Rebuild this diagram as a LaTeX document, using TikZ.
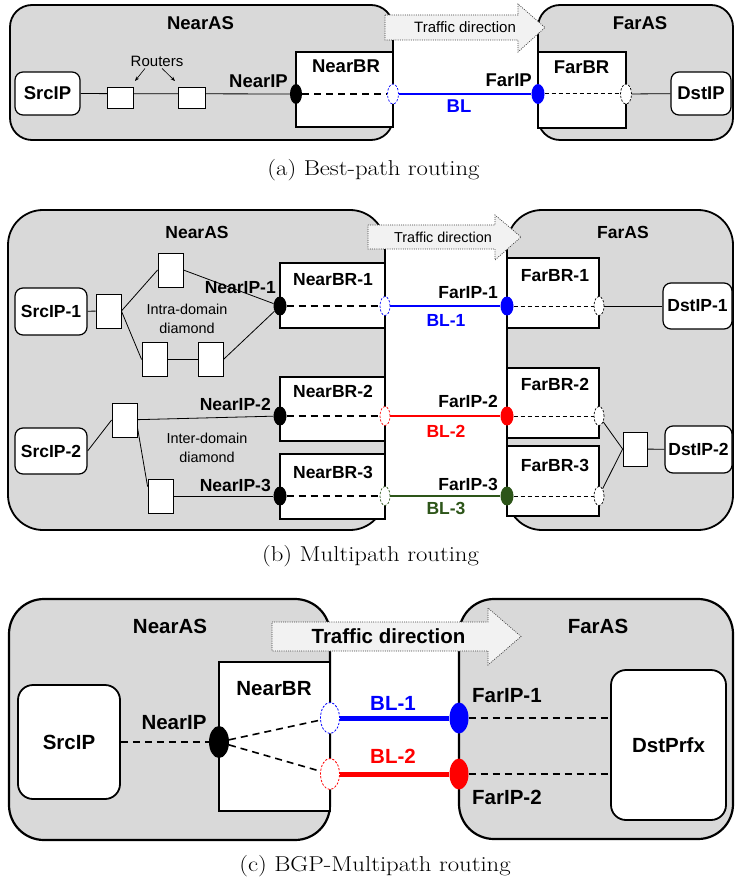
\documentclass[tikz,border=0pt]{standalone}
\usepackage{fontspec}
\usepackage{graphicx}
\setsansfont{Liberation Sans}
\usetikzlibrary{shapes.geometric,arrows.meta}
\pgfdeclarelayer{back}
\pgfdeclarelayer{mid}
\pgfsetlayers{back,mid,main}
\definecolor{asgray}{RGB}{217,217,217}
\definecolor{arrfill}{RGB}{242,242,242}
\definecolor{dkgreen}{RGB}{45,85,25}
\definecolor{ipblue}{RGB}{0,0,255}
\definecolor{ipred}{RGB}{255,0,0}
\newcommand\fA{\fontsize{18.5}{20}\selectfont\sffamily\bfseries}
\newcommand\fB{\fontsize{17.5}{19}\selectfont\sffamily\bfseries}
\newcommand\fC{\fontsize{20.5}{22}\selectfont\sffamily\bfseries}
\newcommand\nA{\fontsize{15}{17}\selectfont\sffamily}
\newcommand\nB{\fontsize{14.4}{18}\selectfont\sffamily}
\newcommand\capf{\fontsize{21.5}{24}\selectfont\rmfamily}
\newcommand\capt[1]{\scalebox{1.15}[1]{#1}}
\begin{document}
\begin{tikzpicture}[x=1pt,y=-1pt,
  asbox/.style={draw=black, line width=1.8pt, fill=asgray, inner sep=0pt},
  brbox/.style={draw=black, line width=1.8pt, fill=white, inner sep=0pt},
  host/.style={draw=black, line width=1.2pt, fill=white, rounded corners=8pt, inner sep=0pt},
  rtr/.style={draw=black, line width=0.8pt, fill=white, inner sep=0pt},
  txt/.style={inner sep=0pt},
  ipdot/.style={ellipse, inner sep=0pt, fill=#1, draw=none},
  iphole/.style={ellipse, inner sep=0pt, fill=white, draw=#1, line width=0.7pt, dash pattern=on 2.2pt off 1.6pt},
  tarrow/.style={draw=black!75, line width=0.7pt, dash pattern=on 1pt off 1.2pt, fill=arrfill},
  wire/.style={line width=0.8pt},
  thickdash/.style={line width=1.8pt, dash pattern=on 7pt off 5pt},
  thindash/.style={line width=1pt, dash pattern=on 4pt off 3pt},
  cdash/.style={line width=1.6pt, dash pattern=on 7pt off 5pt},
  ptr/.style={line width=0.6pt, -{Stealth[length=4.5pt,width=3.5pt]}}
]
\useasboundingbox (0,0) rectangle (735,882);

% ================= back layer =================
\begin{pgfonlayer}{back}
% (a)
\node[asbox, rounded corners=22pt, minimum width=383, minimum height=135] (nearASa) at (201.5,72.5) {};
\node[asbox, rounded corners=22pt, minimum width=195, minimum height=135] (farASa) at (635.5,72.5) {};
\draw[tarrow] (385,15) -- (518,15) -- (518,4) -- (545,27.5) -- (518,52) -- (518,40) -- (385,40) -- cycle;
\node[brbox, minimum width=97, minimum height=75] (nearBRa) at (344.5,89.5) {};
\node[brbox, minimum width=88, minimum height=76] (farBRa) at (582,90) {};
% (b)
\node[asbox, rounded corners=35pt, minimum width=377, minimum height=320] (nearASb) at (196.5,370) {};
\node[asbox, rounded corners=35pt, minimum width=226, minimum height=320] (farASb) at (620,370) {};
\draw[tarrow] (368,225) -- (495,225) -- (495,215) -- (521,237) -- (495,260) -- (495,249) -- (368,249) -- cycle;
\node[brbox, minimum width=105, minimum height=65] (nbr1B) at (332.5,295.5) {};
\node[brbox, minimum width=105, minimum height=64] (nbr2B) at (332.5,409) {};
\node[brbox, minimum width=105, minimum height=65] (nbr3B) at (332.5,486.5) {};
\node[brbox, minimum width=92, minimum height=70] (fbr1B) at (553,293) {};
\node[brbox, minimum width=92, minimum height=70] (fbr2B) at (553,403) {};
\node[brbox, minimum width=92, minimum height=70] (fbr3B) at (553,481) {};
% (c)
\node[asbox, line width=2.2pt, rounded corners=35pt, minimum width=321, minimum height=241] (nearASc) at (169.5,719.5) {};
\node[asbox, line width=2.2pt, rounded corners=35pt, minimum width=274, minimum height=240] (farASc) at (596,719) {};
\draw[tarrow] (272,622) -- (488,622) -- (488,608) -- (521,636.5) -- (488,665) -- (488,651) -- (272,651) -- cycle;
\node[brbox, line width=2pt, minimum width=111, minimum height=149] (nearBRc) at (274.5,736.5) {};
\end{pgfonlayer}

% ================= main nodes =================
% (a)
\node[txt, font=\fA] (lnearASa) at (200.5,23) {NearAS};
\node[txt, font=\fA] (lfarASa) at (640,23) {FarAS};
\node[txt, font=\fA] (lnearBRa) at (346,66.5) {NearBR};
\node[txt, font=\fA] (lfarBRa) at (581.5,67.5) {FarBR};
\node[txt, font=\nA] (tdA) at (465,27.5) {Traffic direction};
\node[host, minimum width=65, minimum height=43, font=\fA] (srcA) at (47.5,93.5) {SrcIP};
\node[host, minimum width=60, minimum height=43, font=\fA] (dstA) at (701,93.5) {DstIP};
\node[rtr, minimum width=26, minimum height=21] (ra1) at (120,97.5) {};
\node[rtr, minimum width=27, minimum height=21] (ra2) at (191.5,97.5) {};
\node[txt, font=\nA] (routA) at (157,61) {Routers};
\coordinate (pa1) at (135,81);
\coordinate (pa2) at (175,81);
\node[ipdot=black, minimum width=12, minimum height=20] (nipA) at (296,94) {};
\node[iphole=ipblue, minimum width=11, minimum height=20] (nhA) at (393,94) {};
\node[ipdot=ipblue, minimum width=13, minimum height=20] (fipA) at (538,94) {};
\node[iphole=black, minimum width=11, minimum height=20] (fhA) at (626,94) {};
\node[txt, font=\fA, anchor=east] (lnipA) at (288,81) {NearIP};
\node[txt, font=\fA, anchor=east] (lfipA) at (532,80.5) {FarIP};
\node[txt, font=\fA, text=ipblue] (lblA) at (459,106.5) {BL};
\node[txt, font=\capf] (capA) at (373.5,170) {\capt{(a) Best-path routing}};

% (b)
\node[txt, font=\fB] (lnearASb) at (197,232) {NearAS};
\node[txt, font=\fB] (lfarASb) at (623,232) {FarAS};
\node[txt, font=\nB] (tdB) at (443,237) {Traffic direction};
\node[txt, font=\fB] (lnbr1B) at (333,280) {NearBR-1};
\node[txt, font=\fB] (lnbr2B) at (333,391) {NearBR-2};
\node[txt, font=\fB] (lnbr3B) at (333,472) {NearBR-3};
\node[txt, font=\fB] (lfbr1B) at (555,276) {FarBR-1};
\node[txt, font=\fB] (lfbr2B) at (555,384) {FarBR-2};
\node[txt, font=\fB] (lfbr3B) at (555,465) {FarBR-3};
\node[host, minimum width=72, minimum height=47, font=\fB] (src1B) at (51,311.5) {SrcIP-1};
\node[host, minimum width=72, minimum height=46, font=\fB] (src2B) at (51,451) {SrcIP-2};
\node[host, minimum width=69, minimum height=46, font=\fB] (dst1B) at (697.5,306) {DstIP-1};
\node[host, minimum width=67, minimum height=47, font=\fB] (dst2B) at (698.5,449.5) {DstIP-2};
\node[rtr, minimum width=25, minimum height=34] (rb1) at (108.5,311) {};
\node[rtr, minimum width=25, minimum height=34] (rb2) at (170.5,270) {};
\node[rtr, minimum width=25, minimum height=34] (rb3) at (154.5,359.5) {};
\node[rtr, minimum width=25, minimum height=34] (rb4) at (210.5,359.5) {};
\node[rtr, minimum width=25, minimum height=34] (rb5) at (124.5,420) {};
\node[rtr, minimum width=25, minimum height=34] (rb6) at (160.5,496) {};
\node[rtr, minimum width=24, minimum height=34] (rb7) at (635,449) {};
\node[txt, font=\nB, align=center] (intraB) at (187,319) {Intra-domain\\[1pt]diamond};
\node[txt, font=\nB, align=center] (interB) at (207,448) {Inter-domain\\[1pt]diamond};
\node[ipdot=black, minimum width=13, minimum height=19] (nip1B) at (280,306) {};
\node[ipdot=black, minimum width=13, minimum height=19] (nip2B) at (280,416) {};
\node[ipdot=black, minimum width=13, minimum height=19] (nip3B) at (280,496) {};
\node[iphole=ipblue, minimum width=10, minimum height=19] (nh1B) at (385,306) {};
\node[iphole=ipred, minimum width=10, minimum height=19] (nh2B) at (385,416) {};
\node[iphole=dkgreen, minimum width=10, minimum height=19] (nh3B) at (385,496) {};
\node[ipdot=ipblue, minimum width=13, minimum height=19] (fip1B) at (507,306) {};
\node[ipdot=ipred, minimum width=13, minimum height=19] (fip2B) at (507,416) {};
\node[ipdot=dkgreen, minimum width=13, minimum height=19] (fip3B) at (507,496) {};
\node[iphole=black, minimum width=10, minimum height=19] (fh1B) at (599,306) {};
\node[iphole=black, minimum width=10, minimum height=19] (fh2B) at (599,416) {};
\node[iphole=black, minimum width=10, minimum height=19] (fh3B) at (599,496) {};
\node[txt, font=\fB, anchor=east] (lnip1B) at (276,288) {NearIP-1};
\node[txt, font=\fB, anchor=east] (lnip2B) at (271,404) {NearIP-2};
\node[txt, font=\fB, anchor=east] (lnip3B) at (271,485) {NearIP-3};
\node[txt, font=\fB, anchor=east] (lfip1B) at (498,293) {FarIP-1};
\node[txt, font=\fB, anchor=east] (lfip2B) at (498,401) {FarIP-2};
\node[txt, font=\fB, anchor=east] (lfip3B) at (498,484) {FarIP-3};
\node[txt, font=\fB, text=ipblue] (lbl1B) at (446,320) {BL-1};
\node[txt, font=\fB, text=ipred] (lbl2B) at (446,431) {BL-2};
\node[txt, font=\fB, text=dkgreen] (lbl3B) at (446,508) {BL-3};
\node[txt, font=\capf] (capB) at (370.5,556.5) {\capt{(b) Multipath routing}};

% (c)
\node[txt, font=\fC] (lnearASc) at (170,626) {NearAS};
\node[txt, font=\fC] (lfarASc) at (598,626) {FarAS};
\node[txt, font=\fC] (tdC) at (388.5,636.5) {Traffic direction};
\node[txt, font=\fC] (lnearBRc) at (274,689) {NearBR};
\node[host, line width=1.8pt, rounded corners=15pt, minimum width=102, minimum height=114, font=\fC] (srcC) at (69,742) {SrcIP};
\node[host, line width=1.8pt, rounded corners=15pt, minimum width=115, minimum height=150, font=\fC] (dstC) at (668.5,745) {DstPrfx};
\node[ipdot=black, minimum width=20, minimum height=32] (nipC) at (219,742) {};
\node[iphole=ipblue, line width=0.8pt, minimum width=19, minimum height=31] (nhbC) at (330,718) {};
\node[iphole=ipred, line width=0.8pt, minimum width=19, minimum height=31] (nhrC) at (330,774) {};
\node[ipdot=ipblue, minimum width=19, minimum height=31] (fbC) at (459,718) {};
\node[ipdot=ipred, minimum width=19, minimum height=31] (frC) at (459,774) {};
\node[txt, font=\fC] (lnipC) at (174,723) {NearIP};
\node[txt, font=\fC, text=ipblue] (lbl1C) at (393,703) {BL-1};
\node[txt, font=\fC, text=ipred] (lbl2C) at (393,756) {BL-2};
\node[txt, font=\fC, anchor=west] (lfip1C) at (472,696) {FarIP-1};
\node[txt, font=\fC, anchor=west] (lfip2C) at (472,797) {FarIP-2};
\node[txt, font=\capf] (capC) at (375,866) {\capt{(c) BGP-Multipath routing}};

% ================= mid layer: connectors =================
\begin{pgfonlayer}{mid}
% (a)
\draw[wire] (srcA) -- (nipA);
\draw[thickdash] (nipA) -- (nhA);
\draw[line width=2.4pt, ipblue] (nhA) -- (fipA);
\draw[thindash] (fipA) -- (fhA);
\draw[wire] (fhA) -- (dstA);
\draw[ptr] ([xshift=-12pt,yshift=-2pt]routA.south) -- (pa1);
\draw[ptr] ([xshift=5pt,yshift=-2pt]routA.south) -- (pa2);
% (b)
\draw[wire] (src1B) -- (rb1);
\draw[wire] (rb1.east) -- (rb2.west);
\draw[wire] (rb1.east) -- (rb3.west);
\draw[wire] (rb3) -- (rb4);
\draw[wire] (rb2.east) -- (nip1B);
\draw[wire] (rb4.east) -- (nip1B);
\draw[wire] (src2B.east) -- (rb5.west);
\draw[wire] (rb5) -- (nip2B);
\draw[wire] (rb5.-29) -- (rb6.144);
\draw[wire] (rb6) -- (nip3B);
\draw[thickdash] (nip1B) -- (nh1B);
\draw[thickdash] (nip2B) -- (nh2B);
\draw[thickdash] (nip3B) -- (nh3B);
\draw[line width=2pt, ipblue] (nh1B) -- (fip1B);
\draw[line width=2pt, ipred] (nh2B) -- (fip2B);
\draw[line width=2pt, dkgreen] (nh3B) -- (fip3B);
\draw[thindash] (fip1B) -- (fh1B);
\draw[thindash] (fip2B) -- (fh2B);
\draw[thindash] (fip3B) -- (fh3B);
\draw[wire] (fh1B) -- (dst1B);
\draw[wire] (fh2B) -- (rb7.west);
\draw[wire] (fh3B) -- (rb7.west);
\draw[wire] (rb7) -- (dst2B);
% (c)
\draw[cdash] (srcC.east) -- (nipC);
\draw[cdash] (nipC) -- (nhbC);
\draw[cdash] (nipC) -- (nhrC);
\draw[line width=5pt, ipblue] (nhbC) -- (fbC);
\draw[line width=5pt, ipred] (nhrC) -- (frC);
\draw[cdash] (fbC) -- (fbC -| dstC.west);
\draw[cdash] (frC) -- (frC -| dstC.west);
\end{pgfonlayer}
\end{tikzpicture}
\end{document}
